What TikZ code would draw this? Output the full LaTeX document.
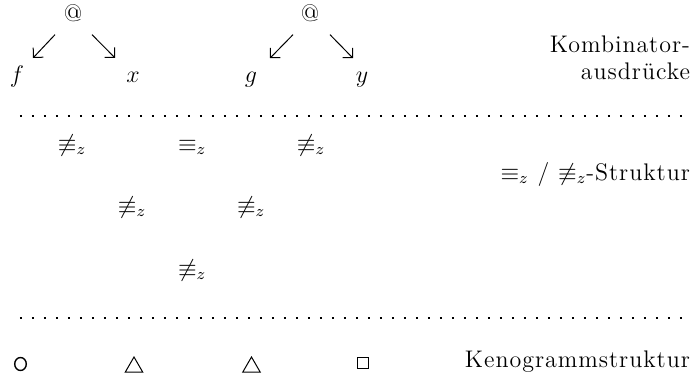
\documentclass[tikz,border=0pt]{standalone}
\usepackage{fontspec}
\setmainfont{lmroman12-regular.otf}[LetterSpace=4]
\usetikzlibrary{arrows.meta,shapes.geometric}
\begin{document}
\begin{tikzpicture}[x=0.5pt,y=-0.5pt,
  every node/.style={inner sep=0pt,outer sep=0pt,font=\fontsize{12}{14}\selectfont},
  lbl/.style={anchor=base east},
  rel/.style={anchor=base west},
  leaf/.style={anchor=base},
  arr/.style={line width=0.5pt,-{Straight Barb[length=3.5pt,width=7pt]}},
  dotline/.style={line width=1pt,dash pattern=on 1pt off 5pt},
  keno/.style={draw,line width=0.5pt}]
\useasboundingbox (0,0) rectangle (693,381);
% combinator expressions
\node[leaf] (a1) at (73,21) {@};
\node[leaf] (a2) at (310,21) {@};
\node[leaf] (f) at (17,82) {$f$};
\node[leaf] (x) at (133,82) {$x$};
\node[leaf] (g) at (251,82) {$g$};
\node[leaf] (y) at (362,82) {$y$};
\draw[arr] ([shift={(-18,22)}]a1.center) -- ([shift={(16,-18)}]f.center);
\draw[arr] ([shift={(19,22)}]a1.center) -- ([shift={(-18,-19)}]x.center);
\draw[arr] ([shift={(-17,22)}]a2.center) -- ([shift={(19,-21)}]g.center);
\draw[arr] ([shift={(20,22)}]a2.center) -- ([shift={(-9,-21)}]y.center);
\node[lbl] (k1) at (690,52) {Kombinator-};
\node[lbl] (k2) at (690,79) {ausdrücke};
% dotted separators
\coordinate (d1s) at (20,116);
\coordinate (d1e) at (684,116);
\coordinate (d2s) at (20,318);
\coordinate (d2e) at (684,318);
\draw[dotline] (d1s) -- (d1e);
\draw[dotline] (d2s) -- (d2e);
% equivalence structure
\node[rel] (r11) at (58,151) {$\not\equiv_z$};
\node[rel] (r12) at (178,151) {$\equiv_z$};
\node[rel] (r13) at (297,151) {$\not\equiv_z$};
\node[rel] (r21) at (118,213) {$\not\equiv_z$};
\node[rel] (r22) at (237,213) {$\not\equiv_z$};
\node[rel] (r31) at (178,276) {$\not\equiv_z$};
\node[lbl] (s) at (690,180) {$\equiv_z$ / $\not\equiv_z$-Struktur};
% kenogram structure
\node[keno,ellipse,minimum width=5.8pt,minimum height=6.5pt,line width=0.7pt] (o1) at (20.5,364) {};
\node[keno,regular polygon,regular polygon sides=3,minimum size=10pt] (t1) at (134,367) {};
\node[keno,regular polygon,regular polygon sides=3,minimum size=10pt] (t2) at (251.5,367) {};
\node[keno,rectangle,minimum size=5.8pt] (q1) at (363,363) {};
\node[lbl] (kl) at (690,367) {Kenogrammstruktur};
\end{tikzpicture}
\end{document}
